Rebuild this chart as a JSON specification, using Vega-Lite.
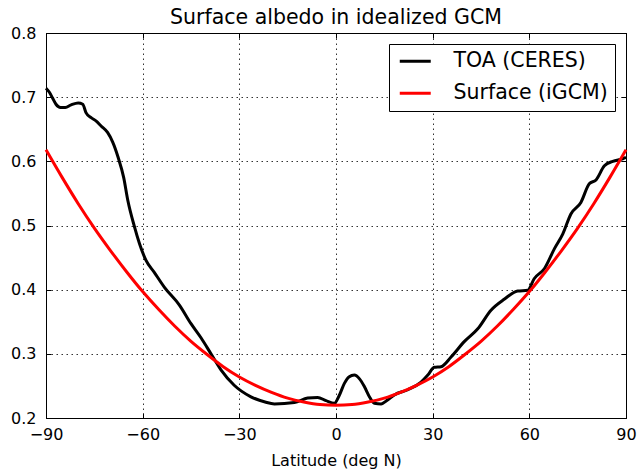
{
  "$schema": "https://vega.github.io/schema/vega-lite/v6.json",
  "width": 580,
  "height": 385,
  "autosize": {"type": "none"},
  "padding": {"left": 46, "top": 33, "right": 11, "bottom": 54},
  "background": "white",
  "title": {"text": "Surface albedo in idealized GCM", "font": "DejaVu Sans", "fontSize": 20.5, "fontWeight": "normal", "color": "black", "offset": -3, "anchor": "middle"},
  "config": {
    "view": {"stroke": "black", "strokeWidth": 1},
    "axis": {"labelFont": "DejaVu Sans", "labelFontSize": 16, "labelColor": "black", "titleFont": "DejaVu Sans", "titleFontSize": 16, "titleFontWeight": "normal", "titleColor": "black", "domainColor": "black", "tickColor": "black", "tickSize": -5, "gridColor": "#333", "gridDash": [1.5, 3.5], "gridWidth": 1, "labelFlush": false}
  },
  "datasets": {
    "toa": [
      {"lat": -90, "albedo": 0.714, "series": "TOA (CERES)"},
      {"lat": -89, "albedo": 0.708, "series": "TOA (CERES)"},
      {"lat": -88, "albedo": 0.699, "series": "TOA (CERES)"},
      {"lat": -86.9, "albedo": 0.689, "series": "TOA (CERES)"},
      {"lat": -85.5, "albedo": 0.684, "series": "TOA (CERES)"},
      {"lat": -84, "albedo": 0.684, "series": "TOA (CERES)"},
      {"lat": -82.2, "albedo": 0.688, "series": "TOA (CERES)"},
      {"lat": -80, "albedo": 0.691, "series": "TOA (CERES)"},
      {"lat": -78.6, "albedo": 0.689, "series": "TOA (CERES)"},
      {"lat": -77.6, "albedo": 0.676, "series": "TOA (CERES)"},
      {"lat": -76, "albedo": 0.668, "series": "TOA (CERES)"},
      {"lat": -74.5, "albedo": 0.663, "series": "TOA (CERES)"},
      {"lat": -72.9, "albedo": 0.655, "series": "TOA (CERES)"},
      {"lat": -70.9, "albedo": 0.645, "series": "TOA (CERES)"},
      {"lat": -69.3, "albedo": 0.63, "series": "TOA (CERES)"},
      {"lat": -67.6, "albedo": 0.606, "series": "TOA (CERES)"},
      {"lat": -65.9, "albedo": 0.575, "series": "TOA (CERES)"},
      {"lat": -64.6, "albedo": 0.539, "series": "TOA (CERES)"},
      {"lat": -62.6, "albedo": 0.499, "series": "TOA (CERES)"},
      {"lat": -61, "albedo": 0.472, "series": "TOA (CERES)"},
      {"lat": -59, "albedo": 0.446, "series": "TOA (CERES)"},
      {"lat": -56.4, "albedo": 0.427, "series": "TOA (CERES)"},
      {"lat": -53.3, "albedo": 0.404, "series": "TOA (CERES)"},
      {"lat": -48.6, "albedo": 0.376, "series": "TOA (CERES)"},
      {"lat": -45, "albedo": 0.347, "series": "TOA (CERES)"},
      {"lat": -41.9, "albedo": 0.325, "series": "TOA (CERES)"},
      {"lat": -38.8, "albedo": 0.3, "series": "TOA (CERES)"},
      {"lat": -35.7, "albedo": 0.275, "series": "TOA (CERES)"},
      {"lat": -31.6, "albedo": 0.251, "series": "TOA (CERES)"},
      {"lat": -26.4, "albedo": 0.233, "series": "TOA (CERES)"},
      {"lat": -22, "albedo": 0.225, "series": "TOA (CERES)"},
      {"lat": -19.1, "albedo": 0.222, "series": "TOA (CERES)"},
      {"lat": -12.9, "albedo": 0.224, "series": "TOA (CERES)"},
      {"lat": -8.8, "albedo": 0.231, "series": "TOA (CERES)"},
      {"lat": -5.7, "albedo": 0.232, "series": "TOA (CERES)"},
      {"lat": -3.1, "albedo": 0.227, "series": "TOA (CERES)"},
      {"lat": -0.5, "albedo": 0.223, "series": "TOA (CERES)"},
      {"lat": 1, "albedo": 0.235, "series": "TOA (CERES)"},
      {"lat": 2.6, "albedo": 0.254, "series": "TOA (CERES)"},
      {"lat": 4, "albedo": 0.264, "series": "TOA (CERES)"},
      {"lat": 5.7, "albedo": 0.267, "series": "TOA (CERES)"},
      {"lat": 7.3, "albedo": 0.261, "series": "TOA (CERES)"},
      {"lat": 8.8, "albedo": 0.249, "series": "TOA (CERES)"},
      {"lat": 10.5, "albedo": 0.232, "series": "TOA (CERES)"},
      {"lat": 11.9, "albedo": 0.223, "series": "TOA (CERES)"},
      {"lat": 14, "albedo": 0.222, "series": "TOA (CERES)"},
      {"lat": 16, "albedo": 0.228, "series": "TOA (CERES)"},
      {"lat": 18.1, "albedo": 0.236, "series": "TOA (CERES)"},
      {"lat": 22.3, "albedo": 0.244, "series": "TOA (CERES)"},
      {"lat": 26.4, "albedo": 0.256, "series": "TOA (CERES)"},
      {"lat": 28.5, "albedo": 0.267, "series": "TOA (CERES)"},
      {"lat": 30.5, "albedo": 0.279, "series": "TOA (CERES)"},
      {"lat": 32.6, "albedo": 0.28, "series": "TOA (CERES)"},
      {"lat": 35.7, "albedo": 0.295, "series": "TOA (CERES)"},
      {"lat": 39.8, "albedo": 0.319, "series": "TOA (CERES)"},
      {"lat": 44, "albedo": 0.339, "series": "TOA (CERES)"},
      {"lat": 48.1, "albedo": 0.368, "series": "TOA (CERES)"},
      {"lat": 52.2, "albedo": 0.385, "series": "TOA (CERES)"},
      {"lat": 56.4, "albedo": 0.398, "series": "TOA (CERES)"},
      {"lat": 59.5, "albedo": 0.399, "series": "TOA (CERES)"},
      {"lat": 61.5, "albedo": 0.417, "series": "TOA (CERES)"},
      {"lat": 64.7, "albedo": 0.433, "series": "TOA (CERES)"},
      {"lat": 67.8, "albedo": 0.464, "series": "TOA (CERES)"},
      {"lat": 70.4, "albedo": 0.487, "series": "TOA (CERES)"},
      {"lat": 72.9, "albedo": 0.518, "series": "TOA (CERES)"},
      {"lat": 76, "albedo": 0.536, "series": "TOA (CERES)"},
      {"lat": 78.6, "albedo": 0.565, "series": "TOA (CERES)"},
      {"lat": 80.7, "albedo": 0.571, "series": "TOA (CERES)"},
      {"lat": 83.3, "albedo": 0.593, "series": "TOA (CERES)"},
      {"lat": 85.9, "albedo": 0.6, "series": "TOA (CERES)"},
      {"lat": 89, "albedo": 0.604, "series": "TOA (CERES)"},
      {"lat": 90, "albedo": 0.606, "series": "TOA (CERES)"}
    ],
    "sfc": [
      {"lat": -90, "albedo": 0.618, "series": "Surface (iGCM)"},
      {"lat": -85, "albedo": 0.575, "series": "Surface (iGCM)"},
      {"lat": -80, "albedo": 0.534, "series": "Surface (iGCM)"},
      {"lat": -75, "albedo": 0.496, "series": "Surface (iGCM)"},
      {"lat": -70, "albedo": 0.461, "series": "Surface (iGCM)"},
      {"lat": -65, "albedo": 0.428, "series": "Surface (iGCM)"},
      {"lat": -60, "albedo": 0.397, "series": "Surface (iGCM)"},
      {"lat": -55, "albedo": 0.369, "series": "Surface (iGCM)"},
      {"lat": -50, "albedo": 0.343, "series": "Surface (iGCM)"},
      {"lat": -45, "albedo": 0.3195, "series": "Surface (iGCM)"},
      {"lat": -40, "albedo": 0.299, "series": "Surface (iGCM)"},
      {"lat": -35, "albedo": 0.28, "series": "Surface (iGCM)"},
      {"lat": -30, "albedo": 0.264, "series": "Surface (iGCM)"},
      {"lat": -25, "albedo": 0.251, "series": "Surface (iGCM)"},
      {"lat": -20, "albedo": 0.24, "series": "Surface (iGCM)"},
      {"lat": -15, "albedo": 0.231, "series": "Surface (iGCM)"},
      {"lat": -10, "albedo": 0.225, "series": "Surface (iGCM)"},
      {"lat": -5, "albedo": 0.221, "series": "Surface (iGCM)"},
      {"lat": 0, "albedo": 0.22, "series": "Surface (iGCM)"},
      {"lat": 5, "albedo": 0.221, "series": "Surface (iGCM)"},
      {"lat": 10, "albedo": 0.225, "series": "Surface (iGCM)"},
      {"lat": 15, "albedo": 0.231, "series": "Surface (iGCM)"},
      {"lat": 20, "albedo": 0.24, "series": "Surface (iGCM)"},
      {"lat": 25, "albedo": 0.251, "series": "Surface (iGCM)"},
      {"lat": 30, "albedo": 0.264, "series": "Surface (iGCM)"},
      {"lat": 35, "albedo": 0.28, "series": "Surface (iGCM)"},
      {"lat": 40, "albedo": 0.299, "series": "Surface (iGCM)"},
      {"lat": 45, "albedo": 0.3195, "series": "Surface (iGCM)"},
      {"lat": 50, "albedo": 0.343, "series": "Surface (iGCM)"},
      {"lat": 55, "albedo": 0.369, "series": "Surface (iGCM)"},
      {"lat": 60, "albedo": 0.397, "series": "Surface (iGCM)"},
      {"lat": 65, "albedo": 0.428, "series": "Surface (iGCM)"},
      {"lat": 70, "albedo": 0.461, "series": "Surface (iGCM)"},
      {"lat": 75, "albedo": 0.496, "series": "Surface (iGCM)"},
      {"lat": 80, "albedo": 0.534, "series": "Surface (iGCM)"},
      {"lat": 85, "albedo": 0.575, "series": "Surface (iGCM)"},
      {"lat": 90, "albedo": 0.618, "series": "Surface (iGCM)"}
    ]
  },
  "layer": [
    {
      "data": {"name": "toa"},
      "mark": {"type": "line", "strokeWidth": 3, "interpolate": "monotone"},
      "encoding": {
        "x": {"field": "lat", "type": "quantitative", "scale": {"domain": [-90, 90], "nice": false, "zero": false}, "axis": {"orient": "bottom", "title": "Latitude (deg N)", "values": [-90, -60, -30, 0, 30, 60, 90], "labelPadding": 13, "titlePadding": 10, "grid": true}},
        "y": {"field": "albedo", "type": "quantitative", "scale": {"domain": [0.2, 0.8], "nice": false, "zero": false}, "axis": {"orient": "left", "title": null, "values": [0.2, 0.3, 0.4, 0.5, 0.6, 0.7, 0.8], "format": ".1f", "labelPadding": 15, "grid": true}},
        "color": {"field": "series", "type": "nominal", "scale": {"domain": ["TOA (CERES)", "Surface (iGCM)"], "range": ["black", "red"]}, "legend": {"title": " ", "titleOrient": "left", "titleFontSize": 1, "titlePadding": 9, "orient": "top-right", "offset": 11, "strokeColor": "black", "fillColor": "white", "padding": 7, "symbolType": "M-2,0H2", "symbolSize": 240, "symbolStrokeWidth": 3, "symbolOffset": 0, "labelFont": "DejaVu Sans", "labelFontSize": 20.5, "labelLimit": 300, "labelColor": "black", "labelOffset": 28, "rowPadding": 11, "cornerRadius": 0}}
      }
    },
    {
      "data": {"name": "sfc"},
      "mark": {"type": "line", "strokeWidth": 3, "interpolate": "monotone"},
      "encoding": {
        "x": {"field": "lat", "type": "quantitative", "axis": {"orient": "top", "title": null, "labels": false, "values": [-90, -60, -30, 0, 30, 60, 90], "grid": false}},
        "y": {"field": "albedo", "type": "quantitative", "axis": {"orient": "right", "title": null, "labels": false, "values": [0.2, 0.3, 0.4, 0.5, 0.6, 0.7, 0.8], "grid": false}},
        "color": {"field": "series", "type": "nominal"}
      }
    }
  ],
  "resolve": {"axis": {"x": "independent", "y": "independent"}}
}
